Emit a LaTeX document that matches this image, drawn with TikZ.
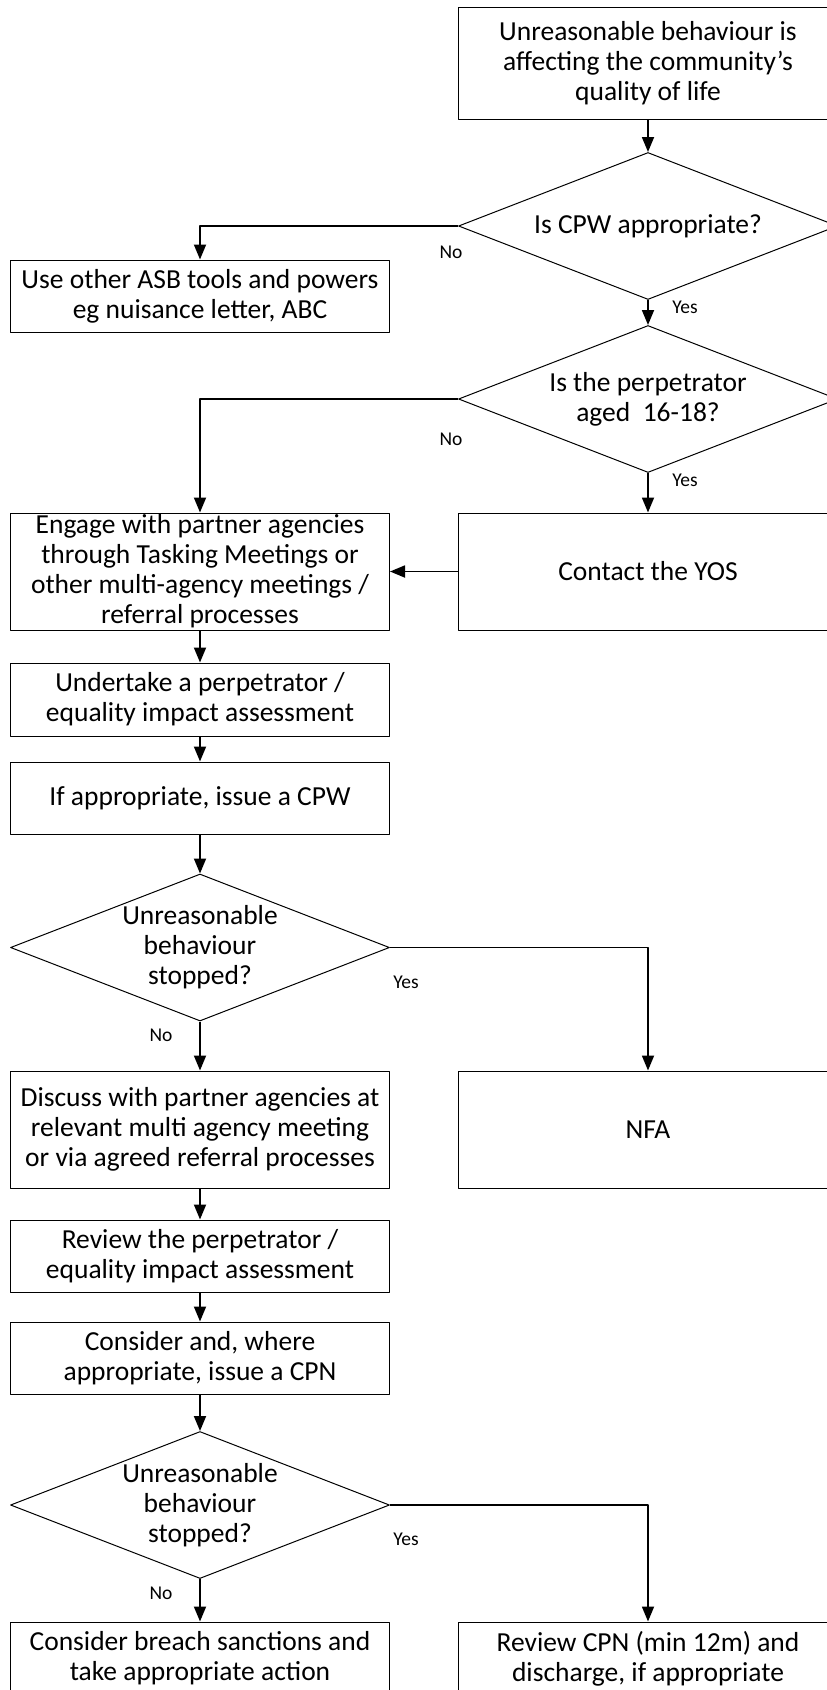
\documentclass[tikz,border=0pt]{standalone}
\usepackage{fontspec}
\setmainfont{Carlito}
\usetikzlibrary{arrows.meta}
\usetikzlibrary{shapes.geometric}

\begin{document}
\begin{tikzpicture}[line cap=round,line join=round,>={Triangle[length=15pt,width=12pt]},x=1pt,y=-1pt,
box/.style={draw,line width=1pt,minimum width=379pt,inner sep=1pt,align=center,font=\fontsize{27.5}{30}\selectfont},
decision/.style={draw,diamond,aspect=2.578,line width=1pt,minimum width=379pt,minimum height=147pt,inner sep=0pt,align=center,font=\fontsize{27.5}{30}\selectfont},
link/.style={->,line width=1.8pt,line cap=butt},
lbl/.style={font=\fontsize{19.5}{22}\selectfont}]
\clip(0,0) rectangle (827,1690);
\node[box,minimum height=112pt] (start) at (648,63) {Unreasonable behaviour is\\affecting the community’s\\quality of life};
\node[decision] (cpw) at (648,226) {Is CPW appropriate?};
\node[box,minimum height=72pt] (asb) at (200,296) {Use other ASB tools and powers\\eg nuisance letter, ABC};
\node[decision] (age) at (648,399) {Is the perpetrator\\aged\ \ 16-18?};
\node[box,minimum height=117pt] (engage) at (200,571.5) {Engage with partner agencies\\through Tasking Meetings or\\other multi-agency meetings /\\referral processes};
\node[box,minimum height=117pt] (yos) at (648,571.5) {Contact the YOS};
\node[box,minimum height=73pt] (assess) at (200,699.5) {Undertake a perpetrator /\\equality impact assessment};
\node[box,minimum height=72pt] (issue) at (200,798) {If appropriate, issue a CPW};
\node[decision] (stop1) at (200,947.5) {Unreasonable\\behaviour\\stopped?};
\node[box,minimum height=117pt] (discuss) at (200,1129.5) {Discuss with partner agencies at\\relevant multi agency meeting\\or via agreed referral processes};
\node[box,minimum height=117pt] (nfa) at (648,1129.5) {NFA};
\node[box,minimum height=72pt] (review) at (200,1256) {Review the perpetrator /\\equality impact assessment};
\node[box,minimum height=72pt] (cpn) at (200,1358) {Consider and, where\\appropriate, issue a CPN};
\node[decision] (stop2) at (200,1505) {Unreasonable\\behaviour\\stopped?};
\node[box,minimum height=73pt] (breach) at (200,1658.5) {Consider breach sanctions and\\take appropriate action};
\node[box,minimum height=73pt] (discharge) at (648,1658.5) {Review CPN (min 12m) and\\discharge, if appropriate};
\draw[link] (start) -- (cpw);
\draw[link] (cpw.west) -| (asb.north);
\draw[link] (cpw) -- (age);
\draw[link] (age.west) -| (engage.north);
\draw[link] (age) -- (yos);
\draw[link] (yos) -- (engage);
\draw[link] (engage) -- (assess);
\draw[link] (assess) -- (issue);
\draw[link] (issue) -- (stop1);
\draw[link] (stop1.east) -| (nfa.north);
\draw[link] (stop1) -- (discuss);
\draw[link] (discuss) -- (review);
\draw[link] (review) -- (cpn);
\draw[link] (cpn) -- (stop2);
\draw[link] (stop2.east) -| (discharge.north);
\draw[link] (stop2) -- (breach);
\node[lbl] (no1) at (451,252) {No};
\node[lbl] (yes1) at (685,307) {Yes};
\node[lbl] (no2) at (451,439) {No};
\node[lbl] (yes2) at (685,480) {Yes};
\node[lbl] (yes3) at (406,982) {Yes};
\node[lbl] (no3) at (161,1035) {No};
\node[lbl] (yes4) at (406,1539) {Yes};
\node[lbl] (no4) at (161,1593) {No};
\end{tikzpicture}
\end{document}
